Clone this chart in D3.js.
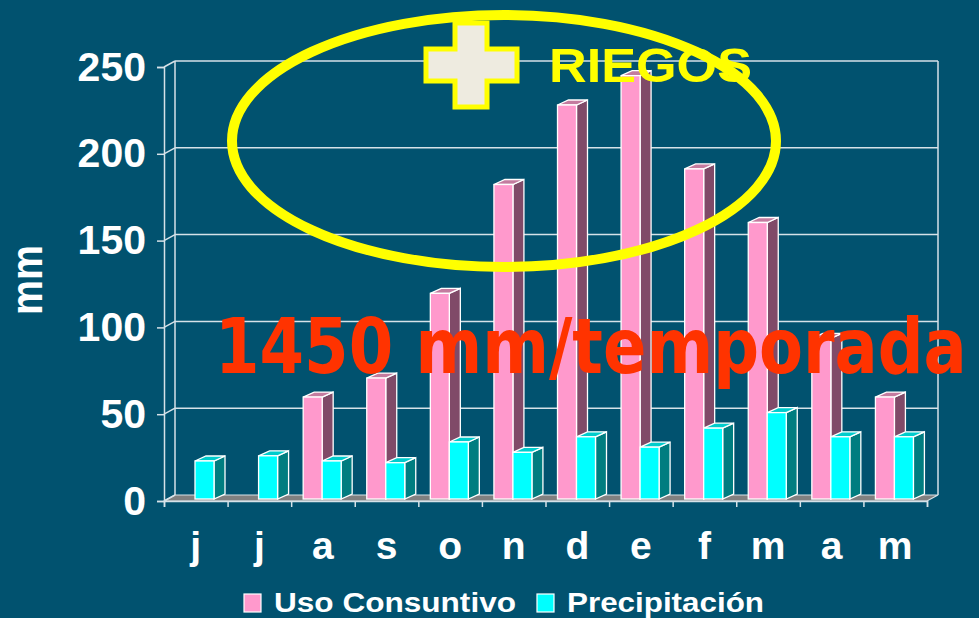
<!DOCTYPE html>
<html>
<head>
<meta charset="utf-8">
<script src="https://cdn.jsdelivr.net/npm/d3@7"></script>
<style>
  body { margin: 0; background: #01526f; }
  svg { display: block; }
</style>
</head>
<body>
<div id="container"></div>
<script>
let w = 979;
let h = 618;

// data
let months = ["j", "j", "a", "s", "o", "n", "d", "e", "f", "m", "a", "m"];
let usoConsuntivo = [0, 0, 59, 70, 119, 182, 228, 245, 191, 160, 93, 59];
let precipitacion = [22, 25, 22, 21, 33, 27, 36, 30, 41, 50, 36, 36];
let yTicks = [0, 50, 100, 150, 200, 250];
let seriesNames = ["Uso Consuntivo", "Precipitación"];

let viz = d3.select("#container")
  .append("svg")
    .attr("width", w)
    .attr("height", h)
    .style("background-color", "#01526f")
;

let gridColor = "#d6e2e8";
let font = "'Liberation Sans', Arial, sans-serif";

// front plane / back wall geometry (3d depth)
let depthX = 11, depthY = -6;
let xScale = d3.scaleBand().domain(d3.range(months.length)).range([164, 927]);
let yFront = d3.scaleLinear().domain([0, 250]).range([501, 67]);
let yBack = d3.scaleLinear().domain([0, 250]).range([495, 61]);
let yBar = d3.scaleLinear().domain([0, 250]).range([499, 67]);

let backLeft = 164 + depthX, backRight = 927 + depthX;

// floor
viz.append("polygon")
  .attr("points", [[164, yFront(0)], [927, yFront(0)], [backRight, yBack(0)], [backLeft, yBack(0)]].join(" "))
  .attr("fill", "#808080")
  .attr("stroke", gridColor)
  .attr("stroke-width", 1.2);

// back wall grid lines
viz.selectAll(".grid").data(yTicks.filter(d => d > 0)).enter()
  .append("line")
    .attr("x1", backLeft).attr("x2", backRight)
    .attr("y1", d => yBack(d)).attr("y2", d => yBack(d))
    .attr("stroke", gridColor).attr("stroke-width", 1.5);

// side wall diagonals
viz.selectAll(".diag").data(yTicks).enter()
  .append("line")
    .attr("x1", 164).attr("x2", backLeft)
    .attr("y1", d => yFront(d)).attr("y2", d => yBack(d))
    .attr("stroke", gridColor).attr("stroke-width", 1.5);

viz.append("line")
  .attr("x1", backLeft).attr("x2", backLeft)
  .attr("y1", yBack(250)).attr("y2", yBack(0))
  .attr("stroke", gridColor).attr("stroke-width", 1.5);
viz.append("line")
  .attr("x1", backRight).attr("x2", backRight)
  .attr("y1", yBack(250)).attr("y2", yBack(0))
  .attr("stroke", gridColor).attr("stroke-width", 1.5);

// y axis on the front edge
let yAxis = viz.append("g")
  .attr("transform", "translate(164,0)")
  .call(d3.axisLeft(yFront).tickValues(yTicks).tickSize(7).tickPadding(11));
yAxis.select(".domain").attr("stroke", gridColor).attr("stroke-width", 1.5);
yAxis.selectAll(".tick line").attr("stroke", gridColor).attr("stroke-width", 1.5);
yAxis.selectAll(".tick text")
  .attr("fill", "white")
  .style("font-family", font)
  .style("font-weight", "bold")
  .style("font-size", "41px");

// x axis: category boundary ticks
let xLin = d3.scaleLinear().domain([0, months.length]).range([164, 927]);
let xAxis = viz.append("g")
  .attr("transform", "translate(0," + yFront(0) + ")")
  .call(d3.axisBottom(xLin).tickValues(d3.range(months.length + 1)).tickSize(6).tickFormat(""));
xAxis.select(".domain").attr("stroke", gridColor).attr("stroke-width", 1.5);
xAxis.selectAll(".tick line").attr("stroke", gridColor).attr("stroke-width", 1.5);

viz.selectAll(".month").data(months).enter()
  .append("text")
    .attr("x", (d, i) => xScale(i) + xScale.bandwidth() / 2)
    .attr("y", 559)
    .attr("text-anchor", "middle")
    .attr("fill", "white")
    .style("font-family", font)
    .style("font-weight", "bold")
    .style("font-size", "39px")
    .text(d => d);

viz.append("text")
  .attr("transform", "translate(42,280) rotate(-90)")
  .attr("text-anchor", "middle")
  .attr("fill", "white")
  .attr("textLength", 70)
  .attr("lengthAdjust", "spacingAndGlyphs")
  .style("font-family", font)
  .style("font-weight", "bold")
  .style("font-size", "44px")
  .text("mm");

// 3d bars
let barW = 19, bdx = 11, bdy = -5;
let colors = [
  { front: "#ff99cc", side: "#804a68", top: "#c47b9f" },
  { front: "#00ffff", side: "#007d80", top: "#00cccc" }
];

function drawBar(i, s, v) {
  if (v <= 0) return;
  let x0 = xScale(i) + 12 + s * barW;
  let x1 = x0 + barW;
  let yt = yBar(v), yb = yBar(0);
  let g = viz.append("g").attr("class", "bar");
  g.append("polygon")
    .attr("points", [[x1, yt], [x1 + bdx, yt + bdy], [x1 + bdx, yb + bdy], [x1, yb]].join(" "))
    .attr("fill", colors[s].side).attr("stroke", "white").attr("stroke-width", 1.3);
  g.append("polygon")
    .attr("points", [[x0, yt], [x0 + bdx, yt + bdy], [x1 + bdx, yt + bdy], [x1, yt]].join(" "))
    .attr("fill", colors[s].top).attr("stroke", "white").attr("stroke-width", 1.3);
  g.append("rect")
    .attr("x", x0).attr("y", yt)
    .attr("width", barW).attr("height", yb - yt)
    .attr("fill", colors[s].front).attr("stroke", "white").attr("stroke-width", 1.3);
}

months.forEach((m, i) => {
  drawBar(i, 0, usoConsuntivo[i]);
  drawBar(i, 1, precipitacion[i]);
});

// legend
let legend = [
  { name: seriesNames[0], color: colors[0].front, x: 244, len: 242 },
  { name: seriesNames[1], color: colors[1].front, x: 537, len: 197 }
];
legend.forEach(d => {
  viz.append("rect")
    .attr("x", d.x).attr("y", 594).attr("width", 17).attr("height", 18)
    .attr("fill", d.color).attr("stroke", "white").attr("stroke-width", 1.2);
  viz.append("text")
    .attr("x", d.x + 30).attr("y", 612)
    .attr("fill", "white")
    .attr("textLength", d.len)
    .attr("lengthAdjust", "spacingAndGlyphs")
    .style("font-family", font)
    .style("font-weight", "bold")
    .style("font-size", "28px")
    .text(d.name);
});

// annotations
// squeeze the big label horizontally with a transform so its box stays inside
let big = viz.append("text")
  .attr("fill", "#ff3300")
  .style("font-family", "'Comic Sans MS', 'DejaVu Sans', sans-serif")
  .style("font-weight", "bold")
  .style("font-size", "76px")
  .text("1450 mm/temporada");
let natural = big.node().getComputedTextLength();
big.attr("transform", "translate(215,373) scale(" + (752 / natural) + ",1)");

viz.append("ellipse")
  .attr("cx", 504).attr("cy", 141)
  .attr("rx", 272).attr("ry", 126)
  .attr("fill", "none")
  .attr("stroke", "#ffff00")
  .attr("stroke-width", 10);

let cross = [[455, 23], [487, 23], [487, 49], [517, 49], [517, 81], [487, 81],
             [487, 107], [455, 107], [455, 81], [426, 81], [426, 49], [455, 49]];
viz.append("polygon")
  .attr("points", cross.join(" "))
  .attr("fill", "#eeebe0")
  .attr("stroke", "#ffff00")
  .attr("stroke-width", 5);

viz.append("text")
  .attr("x", 549).attr("y", 82)
  .attr("fill", "#ffff00")
  .attr("textLength", 203)
  .attr("lengthAdjust", "spacingAndGlyphs")
  .style("font-family", font)
  .style("font-weight", "bold")
  .style("font-size", "48px")
  .text("RIEGOS");
</script>
</body>
</html>
